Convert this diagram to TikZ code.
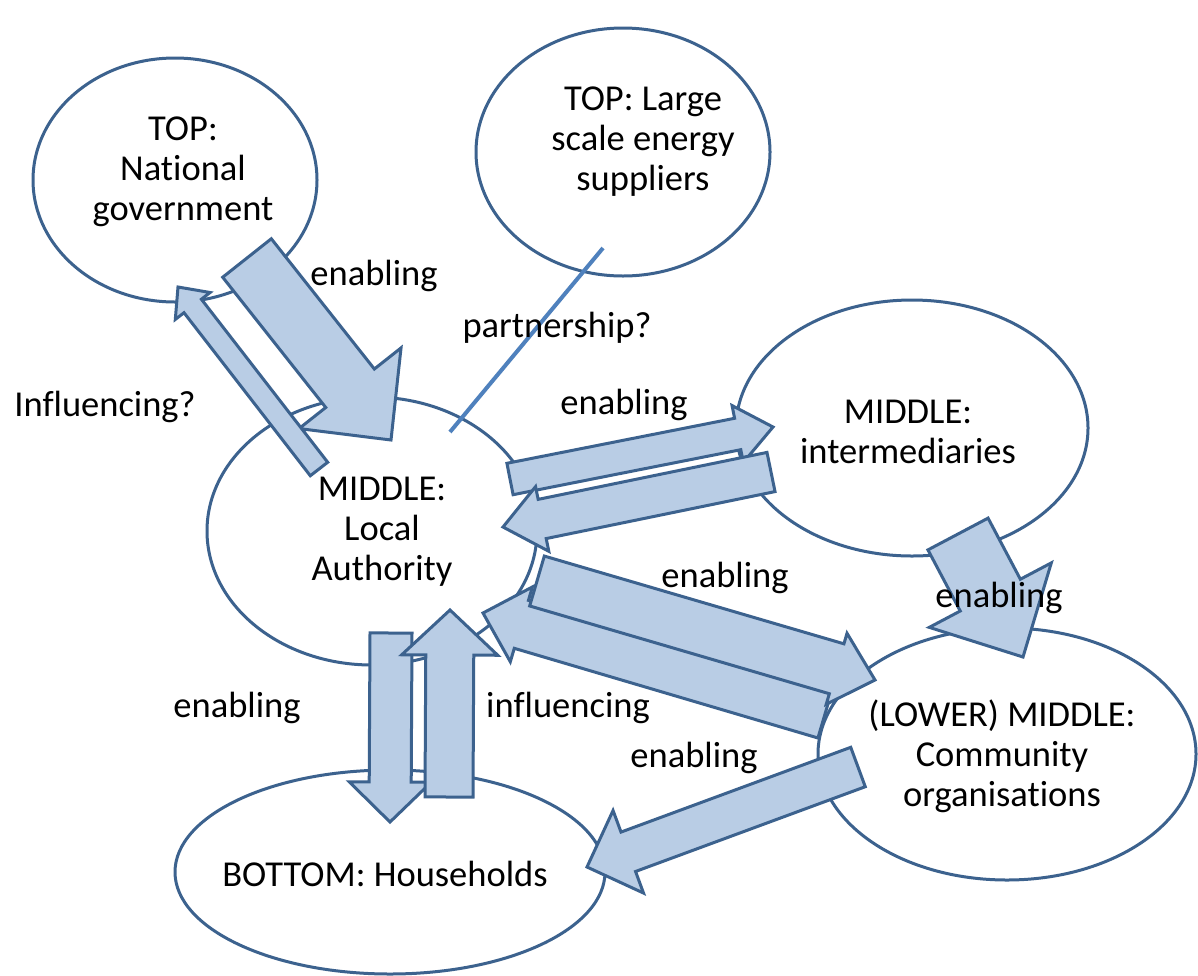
\documentclass[tikz,border=0pt]{standalone}
\usepackage{fontspec}
\setmainfont[Ligatures=CommonOff]{Carlito}
\usetikzlibrary{shapes.geometric,calc}
\definecolor{ellc}{RGB}{60,98,142}
\definecolor{arrfill}{RGB}{185,205,229}
\definecolor{arrline}{RGB}{60,98,142}
\definecolor{partc}{RGB}{79,129,189}
\newcommand{\blockarrow}[5]{%
  \coordinate (ba-n) at ($(#2)!#5!(#1)$);
  \draw[blockarr] ($(#1)!#3!90:(#2)$) -- ($(ba-n)!#3!90:(#2)$) -- ($(ba-n)!#4!90:(#2)$) -- (#2) -- ($(ba-n)!#4!-90:(#2)$) -- ($(ba-n)!#3!-90:(#2)$) -- ($(#1)!#3!-90:(#2)$) -- cycle;%
}
\begin{document}
\begin{tikzpicture}[x=1pt,y=-1pt,
  ell/.style={draw=ellc, line width=3pt, fill=white, ellipse, inner sep=0pt},
  txt/.style={align=center, font=\fontsize{36.5}{40}\selectfont, text=black, inner sep=0pt},
  blockarr/.style={draw=arrline, fill=arrfill, line width=3pt, line join=miter},
  partline/.style={draw=partc, line width=4pt}]
\useasboundingbox (0,0) rectangle (1198,975);
\fill[white] (0,0) rectangle (1198,975);
% ellipses
\node[ell, minimum width=284pt, minimum height=244pt] (ng) at (175,180) {};
\node[ell, minimum width=294pt, minimum height=248pt] (ls) at (623,152) {};
\node[ell, minimum width=330pt, minimum height=268pt] (la) at (372,531) {};
\node[ell, minimum width=352pt, minimum height=256pt] (im) at (912,428) {};
\node[ell, minimum width=378pt, minimum height=252pt] (co) at (1007,754) {};
\node[ell, minimum width=430pt, minimum height=204pt] (hh) at (390,872) {};
% partnership line
\coordinate (p-s) at (603,248);
\coordinate (p-e) at (450,432);
\draw[partline] (p-s) -- (p-e);
% arrow end points
\coordinate (a1s) at (247,258); \coordinate (a1e) at (391,440);
\coordinate (a2s) at (319,469); \coordinate (a2e) at (178,287);
\coordinate (a3s) at (510,479); \coordinate (a3e) at (773,427);
\coordinate (a4s) at (771,472); \coordinate (a4e) at (503,527);
\coordinate (a5s) at (537,581); \coordinate (a5e) at (875,680);
\coordinate (a6s) at (825,714); \coordinate (a6e) at (483,613);
\coordinate (a7s) at (958,534); \coordinate (a7e) at (1023,657);
\coordinate (a8s) at (858,767); \coordinate (a8e) at (587,867);
\coordinate (a9s) at (391,633); \coordinate (a9e) at (390,822);
\coordinate (a10s) at (449,797); \coordinate (a10e) at (450,610);
% arrows
\blockarrow{a1s}{a1e}{31pt}{65pt}{66pt}
\blockarrow{a2s}{a2e}{11pt}{22pt}{24pt}
\blockarrow{a3s}{a3e}{16pt}{29pt}{36pt}
\blockarrow{a4s}{a4e}{20pt}{33pt}{40pt}
\blockarrow{a6s}{a6e}{25pt}{39pt}{40pt}
\blockarrow{a5s}{a5e}{26pt}{37pt}{40pt}
\blockarrow{a7s}{a7e}{34pt}{69pt}{70pt}
\blockarrow{a8s}{a8e}{21pt}{44pt}{44pt}
\blockarrow{a9s}{a9e}{21pt}{41pt}{40pt}
\blockarrow{a10s}{a10e}{24pt}{48pt}{45pt}
% ellipse texts
\node[txt] (ng-t) at (183,172) {TOP:\\National\\government};
\node[txt] (ls-t) at (643,142) {TOP: Large\\scale energy\\suppliers};
\node[txt] (la-t) at (382,532) {MIDDLE:\\Local\\Authority};
\node[txt] (im-t) at (908,432) {MIDDLE:\\intermediaries};
\node[txt] (co-t) at (1002,756) {(LOWER) MIDDLE:\\Community\\organisations};
\node[txt] (hh-t) at (385,874) {BOTTOM: Households};
% labels
\node[txt] (l1) at (374,276) {enabling};
\node[txt] (l2) at (557,328) {partnership?};
\node[txt] (l3) at (105,407) {Influencing?};
\node[txt] (l4) at (624,405) {enabling};
\node[txt] (l5) at (725,578) {enabling};
\node[txt] (l6) at (999,598) {enabling};
\node[txt] (l7) at (237,708) {enabling};
\node[txt] (l8) at (568,708) {influencing};
\node[txt] (l9) at (694,758) {enabling};
\end{tikzpicture}
\end{document}
